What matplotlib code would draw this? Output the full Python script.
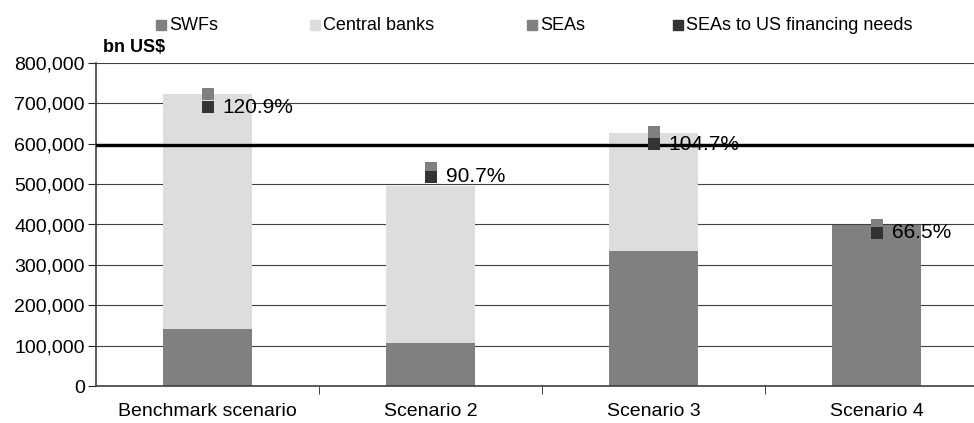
import matplotlib
matplotlib.use('Agg')
import matplotlib.pyplot as plt
from matplotlib.patches import Rectangle
from matplotlib.ticker import FuncFormatter, FixedLocator
import numpy as np

plt.rcParams['font.family'] = ['Liberation Sans', 'DejaVu Sans']

categories = ['Benchmark scenario', 'Scenario 2', 'Scenario 3', 'Scenario 4']
swfs = [141000, 107000, 334000, 399000]
central_banks = [582000, 388000, 293000, 0]
seas = [724000, 541000, 628000, 399000]
seas_to_us_pct = [120.9, 90.7, 104.7, 66.5]
us_financing_needs = 596000

col_swf = '#808080'
col_cb = '#dddddd'
col_sea = '#808080'
col_pct = '#333333'

fig = plt.figure(figsize=(9.74, 4.23), dpi=100)
ax = fig.add_axes([96 / 974, 37 / 423, 892 / 974, 323 / 423])

x = np.arange(len(categories))
ax.bar(x, swfs, width=0.4, color=col_swf, zorder=2)
ax.bar(x, central_banks, width=0.4, bottom=swfs, color=col_cb, zorder=2)
ax.scatter(x, seas, marker='s', s=70, color=col_sea, zorder=4, linewidths=0)

ax.set_xlim(-0.5, len(categories) - 0.5)
ax.set_ylim(0, 800000)
ax.yaxis.set_major_locator(FixedLocator(np.arange(0, 800001, 100000)))
ax.yaxis.set_major_formatter(FuncFormatter(lambda v, p: f'{int(v):,}'))
ax.grid(axis='y', color='#404040', linewidth=0.8, zorder=0)
ax.set_axisbelow(True)

# US financing needs line
ax.axhline(us_financing_needs, color='black', linewidth=2.4, zorder=6)

ax.set_xticks(x)
ax.set_xticklabels(categories, fontsize=14)
ax.tick_params(axis='x', length=0, pad=12)
ax.set_xticks(np.arange(0.5, len(categories) - 0.5, 1), minor=True)
ax.tick_params(axis='x', which='minor', length=6, direction='out', color='#222222')
ax.tick_params(axis='y', labelsize=14, length=6, direction='out', color='#222222', pad=2)

for s in ['top', 'right']:
    ax.spines[s].set_visible(False)
for s in ['left', 'bottom']:
    ax.spines[s].set_color('#404040')
    ax.spines[s].set_linewidth(1.2)

# secondary (hidden) axis for the ratio series
ax2 = ax.twinx()
ax2.set_ylim(0, 140)
ax2.axis('off')
ax2.scatter(x, seas_to_us_pct, marker='s', s=70, color=col_pct, zorder=5, linewidths=0)
for xi, v in zip(x, seas_to_us_pct):
    ax2.annotate(f'{v:.1f}%', (xi, v), xytext=(11, 0), textcoords='offset points',
                 ha='left', va='center', fontsize=15, zorder=7)

fig.text(103 / 974, 1 - 47 / 423, 'bn US$', fontsize=13, fontweight='bold', va='center')

# legend
legend_items = [('SWFs', col_swf, 156), ('Central banks', col_cb, 310),
                ('SEAs', col_sea, 527), ('SEAs to US financing needs', col_pct, 673)]
for label, c, px in legend_items:
    fig.patches.append(Rectangle((px / 974, 1 - 30 / 423), 10 / 974, 10 / 423,
                                 transform=fig.transFigure, color=c, figure=fig))
    fig.text((px + 13) / 974, 1 - 25 / 423, label, fontsize=13, va='center')

fig.savefig('out.png', dpi=100)
